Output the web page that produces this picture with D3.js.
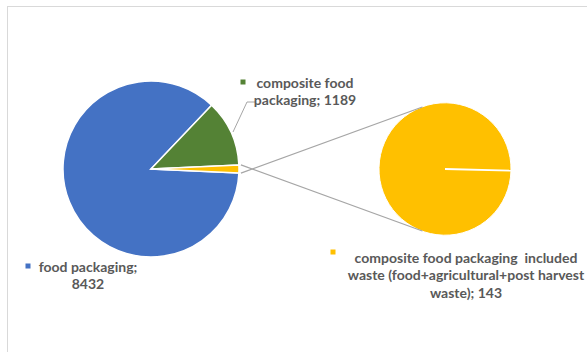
<!DOCTYPE html>
<html>
<head>
<meta charset="utf-8">
<script src="https://cdn.jsdelivr.net/npm/d3@7"></script>
<style>
  body { margin: 0; background: #fff; }
  text { font-family: Lato, "Open Sans", sans-serif; font-weight: 700; fill: #595959; white-space: pre; }
</style>
</head>
<body>
<svg id="chart" width="587" height="352"></svg>
<script>
// chart data
var categories = ["food packaging", "composite food packaging", "composite food packaging  included waste (food+agricultural+post harvest waste)"];
var values = [8432, 1189, 143];
var colors = ["#4472C4", "#548235", "#FFC000"];
// how each label wraps
var labelLines = [
    ["food packaging;", "8432"],
    ["composite food", "packaging; 1189"],
    ["composite food packaging  included", "waste (food+agricultural+post harvest", "waste); 143"]
];

var svg = d3.select("#chart");

// outer frame
svg.append("rect")
    .attr("x", 7.5).attr("y", 6.5)
    .attr("width", 600).attr("height", 400)
    .attr("fill", "none")
    .attr("stroke", "#d9d9d9")
    .attr("stroke-width", 1);

var main = {cx: 151, cy: 169, r: 88};
var second = {cx: 445, cy: 169, r: 66};

var total = d3.sum(values);
var half = Math.PI * values[2] / total;   // half angle of the "other" slice

var pie = d3.pie().sort(null)
    .startAngle(Math.PI / 2 + half)
    .endAngle(Math.PI / 2 + half + 2 * Math.PI);
var arcs = pie(values);

var arc = d3.arc().innerRadius(0).outerRadius(main.r);

var g = svg.append("g").attr("transform", "translate(" + main.cx + "," + main.cy + ")");
g.selectAll("path")
    .data(arcs)
    .enter()
  .append("path")
    .attr("d", arc)
    .attr("fill", function(d, i){ return colors[i]; })
    .attr("stroke", "#fff")
    .attr("stroke-width", 1.5);

// secondary pie, only the one slice
var start2 = Math.PI / 2 + 0.025;
var arc2 = d3.arc().innerRadius(0).outerRadius(second.r);
var g2 = svg.append("g").attr("transform", "translate(" + second.cx + "," + second.cy + ")");
g2.selectAll("path")
    .data(d3.pie().sort(null).startAngle(start2).endAngle(start2 + 2 * Math.PI)([values[2]]))
    .enter()
  .append("path")
    .attr("d", arc2)
    .attr("fill", colors[2])
    .attr("stroke", "#fff")
    .attr("stroke-width", 1);
// the slice edge
g2.append("line")
    .attr("x1", 0).attr("y1", 0)
    .attr("x2", second.r * Math.sin(start2)).attr("y2", -second.r * Math.cos(start2))
    .attr("stroke", "#fff")
    .attr("stroke-width", 1.8);

// connector lines: yellow slice corners -> tangent points on the second pie
function tangent(px, py, sign){
    var dx = px - second.cx, dy = py - second.cy;
    var d = Math.sqrt(dx * dx + dy * dy);
    var base = Math.atan2(dy, dx);
    var a = base + sign * Math.acos(second.r / d);
    return [second.cx + second.r * Math.cos(a), second.cy + second.r * Math.sin(a)];
}
[-1, 1].forEach(function(s){
    var px = main.cx + (main.r + 2) * Math.cos(s * half);
    var py = main.cy + (main.r + 2) * Math.sin(s * half);
    var t = tangent(px, py, s);
    svg.append("line")
        .attr("x1", px).attr("y1", py)
        .attr("x2", t[0]).attr("y2", t[1])
        .attr("stroke", "#a6a6a6")
        .attr("stroke-width", 1.3);
});

// leader for the green label
svg.append("polyline")
    .attr("points", "255,102 247,102 233,132")
    .attr("fill", "none")
    .attr("stroke", "#a6a6a6")
    .attr("stroke-width", 1);

// data labels
var labelPos = [
    {x: 88, y: 267, sx: 28, sy: 266},
    {x: 305, y: 83, sx: 243, sy: 82},
    {x: 466, y: 258, sx: 333, sy: 252}
];
var lineH = 17.5;

labelPos.forEach(function(p, i){
    svg.append("rect")
        .attr("x", p.sx - 2.5).attr("y", p.sy - 2.5)
        .attr("width", 5).attr("height", 5)
        .attr("fill", colors[i]);
    var t = svg.append("text")
        .attr("text-anchor", "middle")
        .attr("font-size", 14);
    labelLines[i].forEach(function(line, j){
        t.append("tspan")
            .attr("x", p.x)
            .attr("y", p.y + j * lineH)
            .attr("dy", "0.35em")
            .text(line);
    });
});
</script>
</body>
</html>
